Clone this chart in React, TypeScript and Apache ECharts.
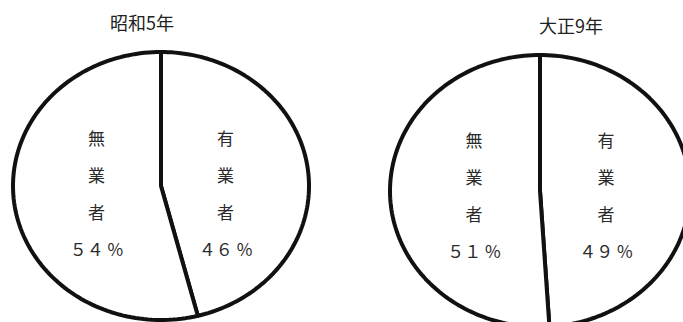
import React, { useEffect, useRef } from "react";
import * as echarts from "echarts";

const titles = ["昭和5年", "大正9年"];
const categories = ["有業者", "無業者"];
const showa5 = [46, 54];
const taisho9 = [49, 51];
const pctLabels1 = ["４６ %", "５４ %"];
const pctLabels2 = ["４９ %", "５１ %"];

type PieGeo = { cx: number; cy: number; rx: number; ry: number; labelY: number };

const geo1: PieGeo = { cx: 161, cy: 186, rx: 148, ry: 134, labelY: 193 };
const geo2: PieGeo = { cx: 540, cy: 191, rx: 150, ry: 136, labelY: 195 };

const FONT = '"Noto Sans CJK JP", "Noto Sans CJK SC", sans-serif';

function makeSeries(values: number[], pct: string[], g: PieGeo) {
  const total = values.reduce((a, b) => a + b, 0);
  return {
    type: "custom",
    coordinateSystem: "none",
    silent: true,
    data: values.map((v) => [v]),
    renderItem: (params: any, api: any) => {
      const i = params.dataIndex;
      let before = 0;
      for (let k = 0; k < i; k++) before += values[k];
      const v = api.value(0) as number;
      const a0 = (before / total) * Math.PI * 2;
      const a1 = ((before + v) / total) * Math.PI * 2;
      const pts: number[][] = [[g.cx, g.cy]];
      const steps = 120;
      for (let s = 0; s <= steps; s++) {
        const a = a0 + ((a1 - a0) * s) / steps;
        pts.push([g.cx + g.rx * Math.sin(a), g.cy - g.ry * Math.cos(a)]);
      }
      const mid = (a0 + a1) / 2;
      const lx = g.cx + g.rx * 0.44 * Math.sin(mid);
      const name = categories[i];
      const txt = name.split("").join("\n") + "\n" + pct[i];
      return {
        type: "group",
        children: [
          {
            type: "polygon",
            shape: { points: pts },
            style: { fill: "#ffffff", stroke: "#111111", lineWidth: 4, lineJoin: "round" },
          },
          {
            type: "text",
            x: lx,
            y: g.labelY,
            style: {
              text: txt,
              fontFamily: FONT,
              fontSize: 17,
              lineHeight: 37,
              fill: "#2a2a2a",
              align: "center",
              verticalAlign: "middle",
            },
          },
        ],
      };
    },
  };
}

export default function App() {
  const ref = useRef<HTMLDivElement>(null);
  useEffect(() => {
    if (!ref.current) return;
    const chart = echarts.init(ref.current, undefined, { renderer: "svg" });
    chart.setOption({
      animation: false,
      backgroundColor: "#ffffff",
      graphic: [
        {
          type: "text",
          x: 142,
          y: 22,
          style: {
            text: titles[0],
            fontFamily: FONT,
            fontSize: 18,
            fill: "#222",
            align: "center",
            verticalAlign: "middle",
          },
        },
        {
          type: "text",
          x: 571,
          y: 25,
          style: {
            text: titles[1],
            fontFamily: FONT,
            fontSize: 18,
            fill: "#222",
            align: "center",
            verticalAlign: "middle",
          },
        },
      ],
      series: [makeSeries(showa5, pctLabels1, geo1), makeSeries(taisho9, pctLabels2, geo2)],
    });
    return () => chart.dispose();
  }, []);
  return (
    <div
      ref={ref}
      style={{ position: "fixed", left: 0, top: 0, width: 683, height: 322, background: "#fff" }}
    />
  );
}
